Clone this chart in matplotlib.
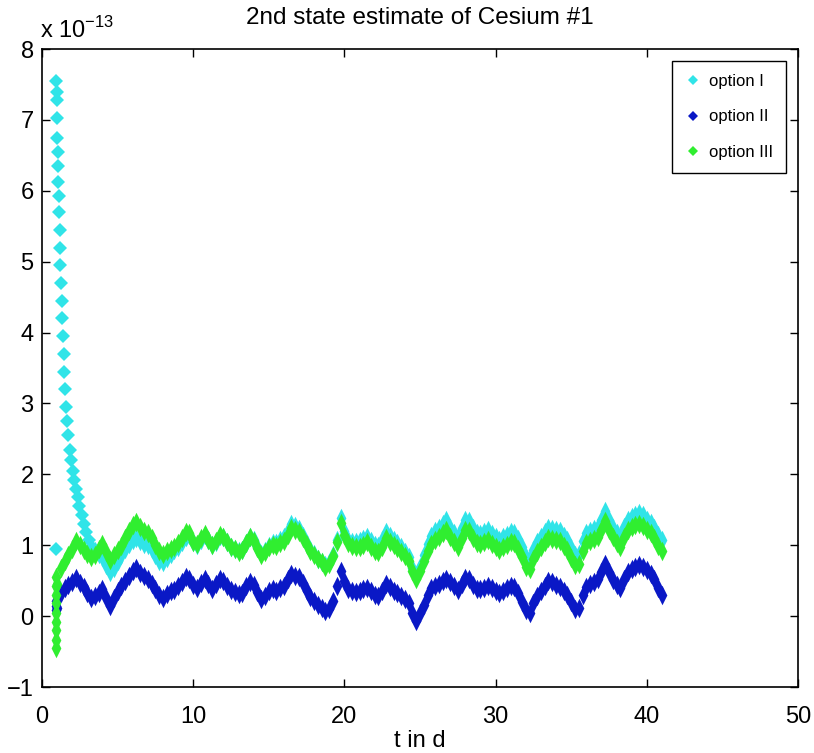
import numpy as np
import matplotlib
matplotlib.use('Agg')
import matplotlib.pyplot as plt

plt.rcParams['font.family'] = ['Liberation Sans', 'DejaVu Sans']
plt.rcParams['mathtext.fontset'] = 'custom'
plt.rcParams['mathtext.rm'] = 'Liberation Sans'

# 2nd state estimate (units of 1e-13), sampled every 6 h from day 1 to day 41
t0 = 1.0
dt = 0.25

# option II
opt2 = [0.12, 0.33, 0.40, 0.44,
        0.48, 0.54, 0.47, 0.41,
        0.33, 0.26, 0.28, 0.33,
        0.38, 0.26, 0.14, 0.25,
        0.36, 0.42, 0.50, 0.57,
        0.64, 0.68, 0.61, 0.56,
        0.52, 0.46, 0.38, 0.30,
        0.26, 0.31, 0.35, 0.37,
        0.42, 0.48, 0.55, 0.53,
        0.44, 0.40, 0.47, 0.53,
        0.46, 0.38, 0.45, 0.52,
        0.50, 0.43, 0.37, 0.34,
        0.31, 0.33, 0.42, 0.48,
        0.44, 0.34, 0.24, 0.28,
        0.35, 0.38, 0.36, 0.40,
        0.43, 0.52, 0.60, 0.57,
        0.55, 0.47, 0.35, 0.27,
        0.22, 0.16, 0.11, 0.07,
        0.10, 0.22, 0.42, 0.64,
        0.50, 0.38, 0.35, 0.34,
        0.35, 0.38, 0.40, 0.35,
        0.30, 0.28, 0.36, 0.45,
        0.41, 0.36, 0.32, 0.29,
        0.24, 0.18, 0.05, -0.07,
        0.04, 0.16, 0.30, 0.39,
        0.42, 0.46, 0.50, 0.53,
        0.48, 0.42, 0.37, 0.45,
        0.54, 0.52, 0.44, 0.38,
        0.38, 0.40, 0.42, 0.39,
        0.35, 0.32, 0.36, 0.40,
        0.42, 0.41, 0.33, 0.20,
        0.08, 0.04, 0.18, 0.28,
        0.35, 0.43, 0.50, 0.48,
        0.44, 0.41, 0.36, 0.30,
        0.20, 0.10, 0.12, 0.30,
        0.41, 0.45, 0.48, 0.52,
        0.62, 0.73, 0.62, 0.51,
        0.44, 0.40, 0.52, 0.62,
        0.66, 0.70, 0.72, 0.70,
        0.65, 0.60, 0.52, 0.40,
        0.30]

# option III
opt3 = [0.45, 0.68, 0.78, 0.86,
        0.95, 1.06, 1.00, 0.93,
        0.88, 0.83, 0.86, 0.95,
        1.02, 0.90, 0.79, 0.86,
        0.94, 0.99, 1.10, 1.20,
        1.28, 1.33, 1.26, 1.20,
        1.17, 1.10, 1.00, 0.92,
        0.88, 0.92, 0.95, 0.97,
        1.03, 1.10, 1.18, 1.17,
        1.05, 1.02, 1.10, 1.16,
        1.08, 1.00, 1.06, 1.15,
        1.12, 1.04, 0.98, 0.95,
        0.91, 0.93, 1.03, 1.12,
        1.06, 0.96, 0.86, 0.90,
        0.97, 1.00, 0.99, 1.03,
        1.06, 1.15, 1.25, 1.22,
        1.19, 1.10, 1.00, 0.92,
        0.86, 0.80, 0.76, 0.70,
        0.74, 0.85, 1.05, 1.32,
        1.14, 1.03, 0.99, 0.97,
        0.98, 1.01, 1.04, 0.97,
        0.92, 0.90, 0.98, 1.10,
        1.05, 1.00, 0.96, 0.90,
        0.85, 0.78, 0.63, 0.52,
        0.64, 0.78, 0.92, 1.02,
        1.08, 1.12, 1.17, 1.22,
        1.12, 1.04, 0.98, 1.10,
        1.22, 1.20, 1.10, 1.03,
        1.02, 1.05, 1.07, 1.02,
        0.97, 0.93, 0.97, 1.01,
        1.04, 1.03, 0.95, 0.83,
        0.70, 0.66, 0.80, 0.90,
        0.97, 1.04, 1.10, 1.09,
        1.07, 1.06, 0.99, 0.93,
        0.82, 0.72, 0.73, 0.92,
        1.03, 1.06, 1.09, 1.12,
        1.22, 1.34, 1.22, 1.11,
        1.03, 0.98, 1.12, 1.22,
        1.26, 1.29, 1.30, 1.27,
        1.21, 1.17, 1.10, 0.99,
        0.92]

# option I on the same grid from day 3.5 on
opt1_t0 = 3.5
opt1 = [0.92, 0.88,
        0.84, 0.72, 0.62, 0.68,
        0.78, 0.86, 0.95, 1.02,
        1.08, 1.10, 1.06, 1.02,
        1.00, 0.95, 0.86, 0.78,
        0.76, 0.82, 0.88, 0.93,
        0.98, 1.05, 1.12, 1.14,
        1.04, 1.01, 1.08, 1.14,
        1.07, 1.00, 1.05, 1.13,
        1.11, 1.04, 0.98, 0.95,
        0.92, 0.94, 1.03, 1.12,
        1.07, 0.97, 0.88, 0.92,
        0.99, 1.03, 1.03, 1.08,
        1.11, 1.20, 1.30, 1.27,
        1.23, 1.13, 1.02, 0.93,
        0.87, 0.81, 0.77, 0.72,
        0.75, 0.86, 1.07, 1.38,
        1.20, 1.08, 1.05, 1.04,
        1.06, 1.09, 1.12, 1.06,
        1.01, 0.99, 1.07, 1.18,
        1.13, 1.08, 1.03, 0.97,
        0.91, 0.83, 0.68, 0.57,
        0.70, 0.86, 1.02, 1.13,
        1.20, 1.25, 1.30, 1.35,
        1.25, 1.17, 1.12, 1.24,
        1.36, 1.34, 1.24, 1.17,
        1.16, 1.19, 1.21, 1.16,
        1.11, 1.07, 1.11, 1.15,
        1.18, 1.17, 1.09, 0.97,
        0.84, 0.80, 0.94, 1.04,
        1.11, 1.18, 1.24, 1.23,
        1.21, 1.20, 1.13, 1.07,
        0.96, 0.86, 0.87, 1.06,
        1.17, 1.20, 1.23, 1.26,
        1.36, 1.48, 1.36, 1.25,
        1.17, 1.12, 1.26, 1.36,
        1.40, 1.43, 1.45, 1.42,
        1.36, 1.32, 1.25, 1.14,
        1.07]

# option I start-up spike (before the grid)
spike_t = [0.95, 0.95, 0.97, 0.99, 1.00, 1.02, 1.04, 1.06, 1.08, 1.10, 1.13, 1.16,
           1.19, 1.22, 1.26, 1.30, 1.34, 1.38, 1.43, 1.48, 1.54, 1.60, 1.67,
           1.75, 1.84, 1.93, 2.02, 2.12, 2.23, 2.35, 2.48, 2.62, 2.77, 2.93,
           3.10, 3.30]
spike_v = [0.95, 7.55, 7.40, 7.28, 7.02, 6.75, 6.55, 6.35, 6.12, 5.92, 5.70, 5.45,
           5.20, 4.95, 4.70, 4.45, 4.20, 3.95, 3.70, 3.45, 3.20, 2.95, 2.75,
           2.55, 2.35, 2.20, 2.05, 1.92, 1.80, 1.68, 1.55, 1.42, 1.30, 1.18,
           1.07, 0.98]

# first samples of options II and III
start_t = 0.95
start2 = [0.08, 0.15, 0.22]
start3 = [-0.45, -0.33, -0.20, -0.08, 0.05, 0.18, 0.30, 0.42, 0.55]

labels = ['option I', 'option II', 'option III']
colors = ['#30e4e8', '#0a18c6', '#30ee30']

t2 = t0 + dt * np.arange(len(opt2))
t1 = opt1_t0 + dt * np.arange(len(opt1))

t2_all = np.concatenate([[start_t] * len(start2), t2])
v2_all = np.concatenate([start2, opt2])
t3_all = np.concatenate([[start_t] * len(start3), t2])
v3_all = np.concatenate([start3, opt3])

# tall diamond so the dense samples form a band like the original dots
tall = [(0, 1), (0.5, 0), (0, -1), (-0.5, 0), (0, 1)]

fig = plt.figure(figsize=(8.14, 7.53), dpi=100)
ax = fig.add_axes([0.0516, 0.0876, 0.9287, 0.8473])

ms = 14
ax.plot(spike_t, spike_v, 'D', color=colors[0], ms=7, mew=0)
ax.plot(t1, opt1, marker=tall, ls='none', color=colors[0], ms=ms, mew=0)
ax.plot(t2_all, v2_all, marker=tall, ls='none', color=colors[1], ms=ms, mew=0)
ax.plot(t3_all, v3_all, marker=tall, ls='none', color=colors[2], ms=ms, mew=0)

# legend handles
for c, lab in zip(colors, labels):
    ax.plot([], [], 'D', color=c, ms=5, mew=0, label=lab)

ax.set_xlim(0, 50)
ax.set_ylim(-1, 8)
ax.set_xticks([0, 10, 20, 30, 40, 50])
ax.set_yticks(range(-1, 9))
ax.tick_params(direction='in', top=True, right=True, length=6, width=1,
               labelsize=17)
ax.tick_params(axis='x', pad=14)
ax.tick_params(axis='y', pad=6)
for s in ax.spines.values():
    s.set_linewidth(1.2)

ax.set_title('2nd state estimate of Cesium #1', fontsize=17.5, pad=18)
ax.set_xlabel('t in d', fontsize=17, labelpad=1)
ax.text(-0.003, 1.01, r'x 10$^{-13}$', transform=ax.transAxes, fontsize=17,
        ha='left', va='bottom')

leg = ax.legend(loc='upper right', bbox_to_anchor=(0.984, 0.981), borderaxespad=0,
                fontsize=12, labelspacing=1.25, handletextpad=0.5,
                handlelength=1.0, fancybox=False, framealpha=1, edgecolor='black',
                borderpad=0.75)
leg.get_frame().set_linewidth(1.0)

fig.savefig('out.png', dpi=100)
